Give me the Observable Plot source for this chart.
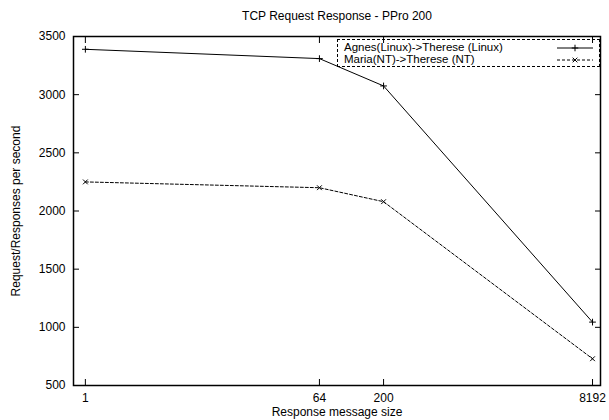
<!DOCTYPE html>
<html>
<head>
<meta charset="utf-8">
<script src="https://cdn.jsdelivr.net/npm/d3@7"></script>
<script src="https://cdn.jsdelivr.net/npm/@observablehq/plot@0.6"></script>
<style>
  body { margin: 0; background: #fff; }
  #wrap { position: relative; width: 609px; height: 420px; font-family: "Liberation Sans", Arial, sans-serif; }
  #legend { position: absolute; left: 337px; top: 39px; width: 263px; height: 28px;
    border: 1px dashed #000; box-sizing: border-box; font-size: 11.5px; line-height: 12px; }
  #legend .row { position: absolute; left: 6px; right: 6px; height: 12px; white-space: nowrap; }
  #legend svg { position: absolute; right: 0; top: 0; }
</style>
</head>
<body>
<div id="wrap"></div>
<script>
const title = "TCP Request Response - PPro 200";
const xLabel = "Response message size";
const yLabel = "Request/Responses per second";
const sizes = [1, 64, 200, 8192];
const seriesNames = ["Agnes(Linux)->Therese (Linux)", "Maria(NT)->Therese (NT)"];
const linuxValues = [3390, 3310, 3075, 1045];
const ntValues = [2250, 2200, 2080, 730];
const xTicks = [1, 64, 200, 8192];
const yTicks = [500, 1000, 1500, 2000, 2500, 3000, 3500];

const data = [
  ...sizes.map((s, i) => ({size: s, value: linuxValues[i], series: seriesNames[0]})),
  ...sizes.map((s, i) => ({size: s, value: ntValues[i], series: seriesNames[1]}))
];
const linux = data.filter(d => d.series === seriesNames[0]);
const nt = data.filter(d => d.series === seriesNames[1]);

const chart = Plot.plot({
  width: 609,
  height: 420,
  marginLeft: 73,
  marginRight: 9,
  marginTop: 36,
  marginBottom: 35,
  style: {fontFamily: "'Liberation Sans', Arial, sans-serif", fontSize: "12px", color: "#000", background: "#fff"},
  x: {type: "log", base: 2, domain: [0.81, 9440]},
  y: {domain: [500, 3500]},
  marks: [
    Plot.axisX({ticks: xTicks, tickFormat: d => String(d), tickSize: -6, tickPadding: 14, label: xLabel, labelAnchor: "center", labelArrow: "none", labelOffset: 30, fontSize: 12}),
    Plot.axisX({ticks: xTicks, anchor: "top", tickSize: -6, tickFormat: () => "", label: null}),
    Plot.axisY({ticks: yTicks, tickFormat: d => String(d), tickSize: -6, tickPadding: 14, label: yLabel, labelAnchor: "center", labelArrow: "none", labelOffset: 62, fontSize: 12}),
    Plot.axisY({ticks: yTicks, anchor: "right", tickSize: -6, tickFormat: () => "", label: null}),
    Plot.frame({stroke: "#000", strokeWidth: 1.5}),
    Plot.line(linux, {x: "size", y: "value", stroke: "#000", strokeWidth: 1}),
    Plot.line(nt, {x: "size", y: "value", stroke: "#000", strokeWidth: 1, strokeDasharray: "3,2"}),
    Plot.dot(linux, {x: "size", y: "value", symbol: "plus", r: 2.3, stroke: "#000", strokeWidth: 1}),
    Plot.dot(nt, {x: "size", y: "value", symbol: "times", r: 2.3, stroke: "#000", strokeWidth: 1}),
    Plot.text([title], {frameAnchor: "top", dy: -25, fontSize: 12, fill: "#000"})
  ]
});
const wrap = document.getElementById("wrap");
wrap.appendChild(chart);

const legend = document.createElement("div");
legend.id = "legend";
seriesNames.forEach((name, i) => {
  const row = document.createElement("div");
  row.className = "row";
  row.style.top = (1 + i * 12) + "px";
  row.textContent = name;
  const svg = d3.create("svg").attr("width", 36).attr("height", 12);
  svg.append("line").attr("x1", 0).attr("x2", 36).attr("y1", 7).attr("y2", 7)
    .attr("stroke", "#000").attr("stroke-width", 1).attr("stroke-dasharray", i === 1 ? "3,2" : null);
  const sym = d3.symbol(i === 0 ? d3.symbolPlus : d3.symbolTimes, 16)();
  svg.append("path").attr("d", sym).attr("transform", "translate(18,7)").attr("fill", "none").attr("stroke", "#000");
  row.appendChild(svg.node());
  legend.appendChild(row);
});
wrap.appendChild(legend);
</script>
</body>
</html>
